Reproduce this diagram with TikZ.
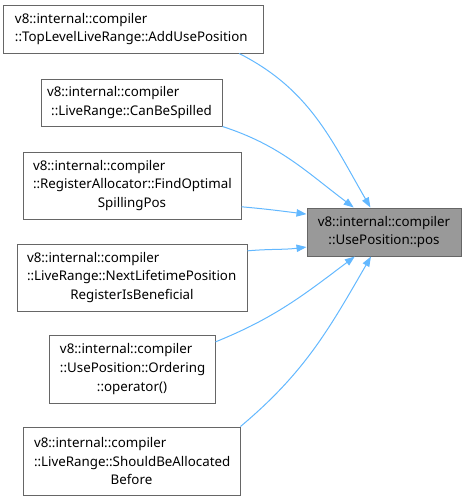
\documentclass[tikz,border=0pt]{standalone}
\usepackage{fontspec}
\setmainfont{Noto Sans}
\usepackage{tikz}
\usetikzlibrary{arrows.meta}
\definecolor{bordGris}{HTML}{666666}
\definecolor{fondCible}{HTML}{999999}
\definecolor{bleuFleche}{HTML}{63B8FF}

\begin{document}
\begin{tikzpicture}[x=0.75pt,y=-0.75pt,
  font=\fontsize{10}{14}\selectfont,
  fonc/.style={rectangle,draw=bordGris,fill=white,align=left,inner xsep=7.5pt,
               inner ysep=2pt,line width=0.75pt},
  cible/.style={rectangle,draw=bordGris,fill=fondCible,align=center,
               minimum width=115.5pt,minimum height=36pt,line width=0.75pt},
  arr/.style={-{Triangle[length=7.5pt,width=5.5pt]},bleuFleche,line width=0.75pt}]

  \useasboundingbox (0,0) rectangle (466,501);

  \node[cible] (pos) at (384,232)
    {v8::internal::compiler\\::UsePosition::pos};

  \node[fonc,text width=177pt,minimum height=36pt,inner xsep=9pt] (addUse) at (133,29)
    {v8::internal::compiler\\::TopLevelLiveRange::AddUsePosition};
  \node[fonc,text width=126.75pt,minimum height=35.25pt,inner xsep=4.5pt] (canSpill) at (131.5,102.5)
    {v8::internal::compiler\par\centerline{::LiveRange::CanBeSpilled}};
  \node[fonc,text width=148.5pt,minimum height=50.25pt] (findOpt) at (132,185.5)
    {v8::internal::compiler\\::RegisterAllocator::FindOptimal\par\centerline{SpillingPos}};
  \node[fonc,text width=157.5pt,minimum height=50.25pt] (nextLife) at (132,277.5)
    {v8::internal::compiler\\::LiveRange::NextLifetimePosition\par\centerline{RegisterIsBeneficial}};
  \node[fonc,text width=108pt,minimum height=51pt,inner xsep=8.25pt] (ordering) at (132,369)
    {v8::internal::compiler\\::UsePosition::Ordering\par\centerline{::operator()}};
  \node[fonc,text width=146.25pt,minimum height=51pt,inner xsep=8.25pt] (shouldAlloc) at (131.5,461)
    {v8::internal::compiler\\::LiveRange::ShouldBeAllocated\par\centerline{Before}};

  \draw[arr] (addUse.-13) to[out=-27,in=120] (pos.119);
  \draw[arr] (canSpill.south east) to[out=-18,in=143] (pos.141);
  \draw[arr] (findOpt.-11) to[out=-5,in=173] (pos.167);
  \draw[arr] (nextLife.13) to[out=5,in=187] (pos.191);
  \draw[arr] (ordering.18) to[out=22,in=-143] (pos.220);
  \draw[arr] (shouldAlloc.north east) to[out=40,in=-120] (pos.242);
\end{tikzpicture}
\end{document}
